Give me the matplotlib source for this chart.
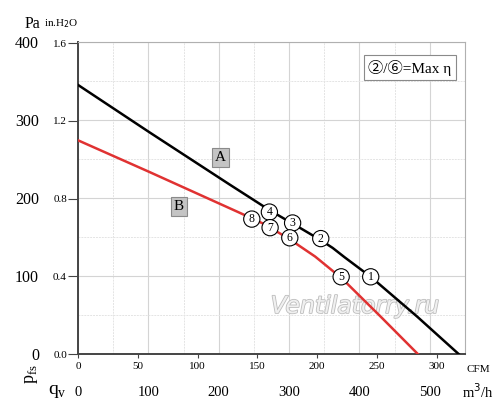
import matplotlib
matplotlib.use("Agg")
import matplotlib.pyplot as plt
import matplotlib.patheffects as pe
from matplotlib.ticker import MultipleLocator, FixedLocator

plt.rcParams['font.family'] = ['Liberation Serif', 'Noto Sans CJK JP']

### DATA ###
# curve A (black), flow in m3/h, static pressure in Pa
flow_a = [0, 102, 216, 273, 315, 345, 362, 379, 416, 482, 541]
pa_a = [345, 284, 217, 184, 162, 146, 136, 124, 99, 48, 0]
# curve B (red)
flow_b = [0, 100, 230, 266, 301, 337, 375, 429, 483]
pa_b = [274, 234, 181, 166, 147, 125, 97, 49, 0]

# numbered operating points
pt_labels = ['1', '2', '3', '4', '5', '6', '7', '8']
pt_flow = [416, 345, 305, 272, 374, 301, 273, 247]
pt_pa = [99, 148, 168, 182, 99, 149, 162, 173]

m3h_ticks = [0, 100, 200, 300, 400, 500]
cfm_ticks = [0, 50, 100, 150, 200, 250, 300]
pa_ticks = [0, 100, 200, 300, 400]
inh2o_ticks = [0.0, 0.4, 0.8, 1.2, 1.6]

M3H_TO_CFM = 0.588578
PA_PER_INH2O = 249.089

### FIGURE ###
fig = plt.figure(figsize=(5, 4.18), dpi=100)
ax = fig.add_axes([0.156, 0.153, 0.774, 0.7465])

ax.set_xlim(0, 550)
ax.set_ylim(0, 400)

# grid
ax.xaxis.set_minor_locator(MultipleLocator(50))
ax.yaxis.set_minor_locator(MultipleLocator(50))
ax.grid(which='major', color='#d4d4d4', lw=0.8)
ax.grid(which='minor', color='#e4e4e4', lw=0.7, ls=(0, (2, 1)))
ax.set_axisbelow(True)

# spines
for s in ['top', 'right']:
    ax.spines[s].set_color('#b0b0b0')
    ax.spines[s].set_linewidth(0.8)
for s in ['left', 'bottom']:
    ax.spines[s].set_color('#444444')
    ax.spines[s].set_linewidth(1.4)

# watermark
ax.text(0.716, 0.154, 'Ventilatorry.ru', transform=ax.transAxes, ha='center', va='center',
        fontsize=17, style='italic', family='DejaVu Sans', color='#f0f0f0', zorder=2,
        path_effects=[pe.withStroke(linewidth=1.2, foreground='#bdbdbd')])

# curves
ax.plot(flow_a, pa_a, color='black', lw=1.8, zorder=3)
ax.plot(flow_b, pa_b, color='#e03232', lw=1.8, zorder=3)

# numbered points
for lab, x, y in zip(pt_labels, pt_flow, pt_pa):
    ax.text(x, y, lab, ha='center', va='center', fontsize=8.5, zorder=5,
            bbox=dict(boxstyle='circle,pad=0.18', fc='white', ec='black', lw=0.8))

# curve labels
box_style = dict(boxstyle='square,pad=0.2', fc='#c4c4c4', ec='#8a8a8a', lw=0.8)
ax.text(203, 252, 'A', ha='center', va='center', fontsize=11, bbox=box_style, zorder=4)
ax.text(143, 189, 'B', ha='center', va='center', fontsize=11, bbox=box_style, zorder=4)

# max efficiency note
ax.text(0.858, 0.917, '②/⑥=Max η', transform=ax.transAxes, ha='center', va='center',
        fontsize=11, zorder=6,
        bbox=dict(boxstyle='square,pad=0.3', fc='white', ec='#8a8a8a', lw=0.8))

# primary axes: m3/h and Pa labels (no tick marks)
ax.set_xticks(m3h_ticks)
ax.set_yticks(pa_ticks)
ax.tick_params(axis='x', which='both', length=0, pad=23, labelsize=10.5)
ax.tick_params(axis='y', which='both', length=0, pad=28, labelsize=11.5)

# secondary axes: CFM and in.H2O (with tick marks)
secx = ax.secondary_xaxis('bottom', functions=(lambda v: v * M3H_TO_CFM,
                                               lambda v: v / M3H_TO_CFM))
secx.xaxis.set_major_locator(FixedLocator(cfm_ticks))
secx.tick_params(axis='x', length=3, width=0.8, pad=3, labelsize=8, color='#444444')
secx.spines['bottom'].set_visible(False)

secy = ax.secondary_yaxis('left', functions=(lambda v: v / PA_PER_INH2O,
                                             lambda v: v * PA_PER_INH2O))
secy.yaxis.set_major_locator(FixedLocator(inh2o_ticks))
secy.yaxis.set_major_formatter(plt.FormatStrFormatter('%.1f'))
secy.tick_params(axis='y', length=7, width=0.8, pad=1, labelsize=8, color='#444444')
secy.spines['left'].set_visible(False)

# axis titles
fig.text(32 / 500, 1 - 24 / 418, 'Pa', ha='center', va='center', fontsize=11.5)
fig.text(61 / 500, 1 - 24 / 418, 'in.H$_2$O', ha='center', va='center', fontsize=8)
fig.text(32 / 500, 1 - 374 / 418, 'p$_{\\mathregular{fs}}$', ha='center', va='center',
         fontsize=13, rotation=90)
fig.text(57 / 500, 1 - 392 / 418, 'q$_{\\mathregular{v}}$', ha='center', va='center', fontsize=14)
fig.text(478 / 500, 1 - 369 / 418, 'CFM', ha='center', va='center', fontsize=8)
fig.text(478 / 500, 1 - 392 / 418, 'm$^3$/h', ha='center', va='center', fontsize=10.5)

fig.savefig('out.png', dpi=100)
